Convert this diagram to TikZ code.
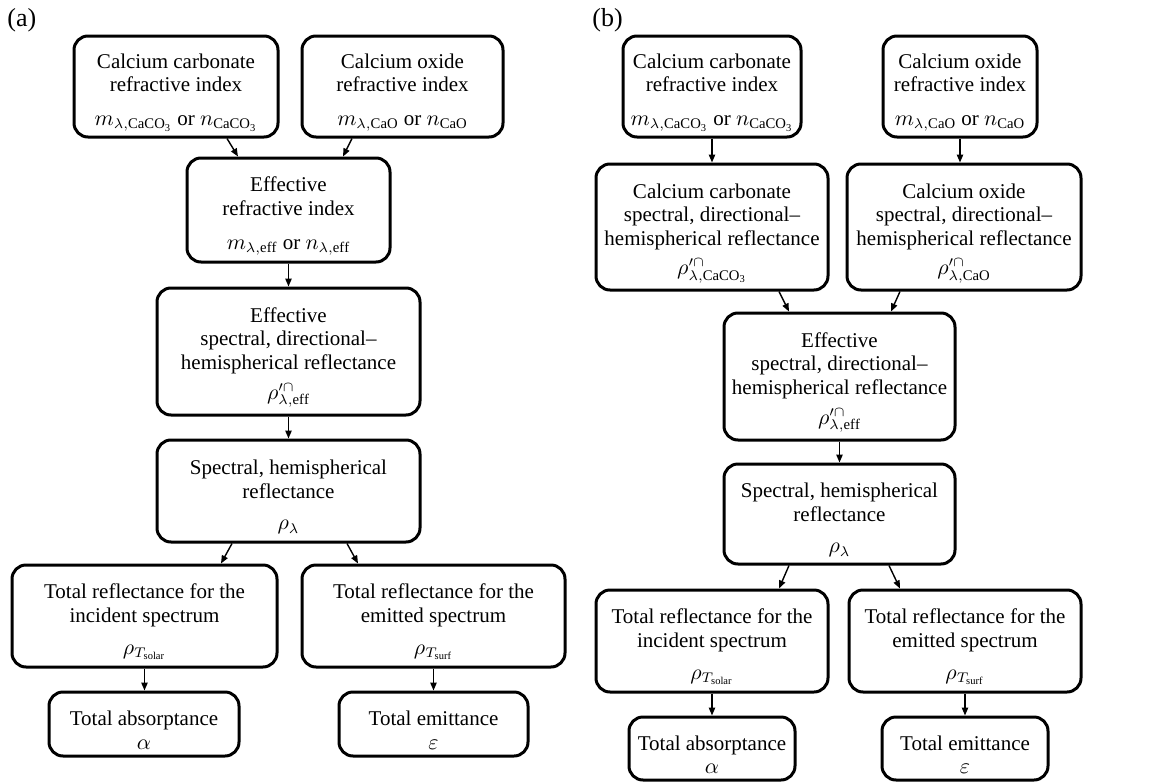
\documentclass[tikz,border=0pt]{standalone}
\usepackage{fontspec}
\setmainfont{Liberation Serif}
\usepackage{amsmath}
\usetikzlibrary{arrows.meta}

\newcommand{\topgap}{\rule{0pt}{13.5pt}}

\begin{document}
\begin{tikzpicture}[x=0.5pt,y=-0.5pt,
    box/.style={draw,line width=1.5pt,rounded corners=7pt,align=center,inner sep=2pt,
      font=\fontsize{10.5}{11.8}\selectfont},
    link/.style={-{Triangle[length=4pt,width=3.2pt]},line width=0.7pt}]
  \useasboundingbox (0,0) rectangle (1158,782);
  % panel labels
  \node[anchor=north west,inner sep=0pt,font=\fontsize{13}{14}\selectfont] (laba) at (7,8) {(a)};
  \node[anchor=north west,inner sep=0pt,font=\fontsize{13}{14}\selectfont] (labb) at (592,8) {(b)};

  % (a) refractive indices
  \node[box,minimum width=102pt,minimum height=50.5pt] (a1) at (176,86.5)
    {\topgap Calcium carbonate\\refractive index\\[5pt]$m_{\lambda,\mathrm{CaCO_3}}$ or $n_{\mathrm{CaCO_3}}$};
  \node[box,minimum width=100.5pt,minimum height=50.5pt] (a2) at (402.5,86.5)
    {\topgap Calcium oxide\\refractive index\\[5pt]$m_{\lambda,\mathrm{CaO}}$ or $n_{\mathrm{CaO}}$};
  \node[box,minimum width=101.5pt,minimum height=52pt] (a3) at (288.5,210)
    {\topgap Effective\\refractive index\\[5pt]$m_{\lambda,\mathrm{eff}}$ or $n_{\lambda,\mathrm{eff}}$};
  % (a) reflectances
  \node[box,minimum width=131.5pt,minimum height=63.5pt] (a4) at (288.5,351.5)
    {\topgap Effective\\spectral, directional--\\hemispherical reflectance\\[3pt]$\rho^{\prime\cap}_{\lambda,\mathrm{eff}}$};
  \node[box,minimum width=131.5pt,minimum height=51pt] (a5) at (288.5,491)
    {\topgap Spectral, hemispherical\\reflectance\\[4pt]$\rho_{\lambda}$};
  \node[box,minimum width=132.5pt,minimum height=51pt] (a6) at (144.5,616)
    {\topgap Total reflectance for the\\incident spectrum\\[4pt]$\rho_{T_{\mathrm{solar}}}$};
  \node[box,minimum width=131.5pt,minimum height=51pt] (a7) at (433.5,616)
    {\topgap Total reflectance for the\\emitted spectrum\\[4pt]$\rho_{T_{\mathrm{surf}}}$};
  % (a) totals
  \node[box,minimum width=95pt,minimum height=32pt] (a8) at (144,724)
    {\topgap Total absorptance\\$\alpha$};
  \node[box,minimum width=94.5pt,minimum height=32pt] (a9) at (433.5,724)
    {\topgap Total emittance\\$\varepsilon$};

  % (a) arrows
  \draw[link] ([xshift=25.5pt]a1.south) -- ([xshift=-25.25pt]a3.north);
  \draw[link] ([xshift=-25.25pt]a2.south) -- ([xshift=27.25pt]a3.north);
  \draw[link] (a3.south) -- (a4.north);
  \draw[link] (a4.south) -- (a5.north);
  \draw[link] ([xshift=-28.25pt]a5.south) -- ([xshift=38.25pt]a6.north);
  \draw[link] ([xshift=29.25pt]a5.south) -- ([xshift=-37.75pt]a7.north);
  \draw[link] (a6.south) -- (a6.south |- a8.north);
  \draw[link] (a7.south) -- (a7.south |- a9.north);

  % (b) refractive indices
  \node[box,minimum width=89pt,minimum height=50.5pt] (b1) at (712,86.5)
    {\topgap Calcium carbonate\\refractive index\\[5pt]$m_{\lambda,\mathrm{CaCO_3}}$ or $n_{\mathrm{CaCO_3}}$};
  \node[box,minimum width=77pt,minimum height=50.5pt] (b2) at (960,86.5)
    {\topgap Calcium oxide\\refractive index\\[5pt]$m_{\lambda,\mathrm{CaO}}$ or $n_{\mathrm{CaO}}$};
  % (b) reflectances
  \node[box,minimum width=116pt,minimum height=63pt] (b3) at (712,227)
    {\topgap Calcium carbonate\\spectral, directional--\\hemispherical reflectance\\[3pt]$\rho^{\prime\cap}_{\lambda,\mathrm{CaCO_3}}$};
  \node[box,minimum width=117pt,minimum height=63pt] (b4) at (964,227)
    {\topgap Calcium oxide\\spectral, directional--\\hemispherical reflectance\\[3pt]$\rho^{\prime\cap}_{\lambda,\mathrm{CaO}}$};
  \node[box,minimum width=115.5pt,minimum height=63.5pt] (b5) at (839.5,376.5)
    {\topgap Effective\\spectral, directional--\\hemispherical reflectance\\[3pt]$\rho^{\prime\cap}_{\lambda,\mathrm{eff}}$};
  \node[box,minimum width=115.5pt,minimum height=50pt] (b6) at (839.5,514)
    {\topgap Spectral, hemispherical\\reflectance\\[4pt]$\rho_{\lambda}$};
  \node[box,minimum width=116pt,minimum height=51pt] (b7) at (712,641)
    {\topgap Total reflectance for the\\incident spectrum\\[4pt]$\rho_{T_{\mathrm{solar}}}$};
  \node[box,minimum width=116pt,minimum height=51pt] (b8) at (965,641)
    {\topgap Total reflectance for the\\emitted spectrum\\[4pt]$\rho_{T_{\mathrm{surf}}}$};
  % (b) totals
  \node[box,minimum width=83pt,minimum height=31.5pt] (b9) at (712,748.5)
    {\topgap Total absorptance\\$\alpha$};
  \node[box,minimum width=83pt,minimum height=31.5pt] (b10) at (965,748.5)
    {\topgap Total emittance\\$\varepsilon$};

  % (b) arrows
  \draw[link] (b1.south) -- (b1.south |- b3.north);
  \draw[link] (b2.south) -- (b2.south |- b4.north);
  \draw[link] ([xshift=33.5pt]b3.south) -- ([xshift=-25.25pt]b5.north);
  \draw[link] ([xshift=-32pt]b4.south) -- ([xshift=25.75pt]b5.north);
  \draw[link] (b5.south) -- (b6.north);
  \draw[link] ([xshift=-25.25pt]b6.south) -- ([xshift=33.5pt]b7.north);
  \draw[link] ([xshift=24.75pt]b6.south) -- ([xshift=-32.5pt]b8.north);
  \draw[link] (b7.south) -- (b7.south |- b9.north);
  \draw[link] (b8.south) -- (b8.south |- b10.north);
\end{tikzpicture}
\end{document}
